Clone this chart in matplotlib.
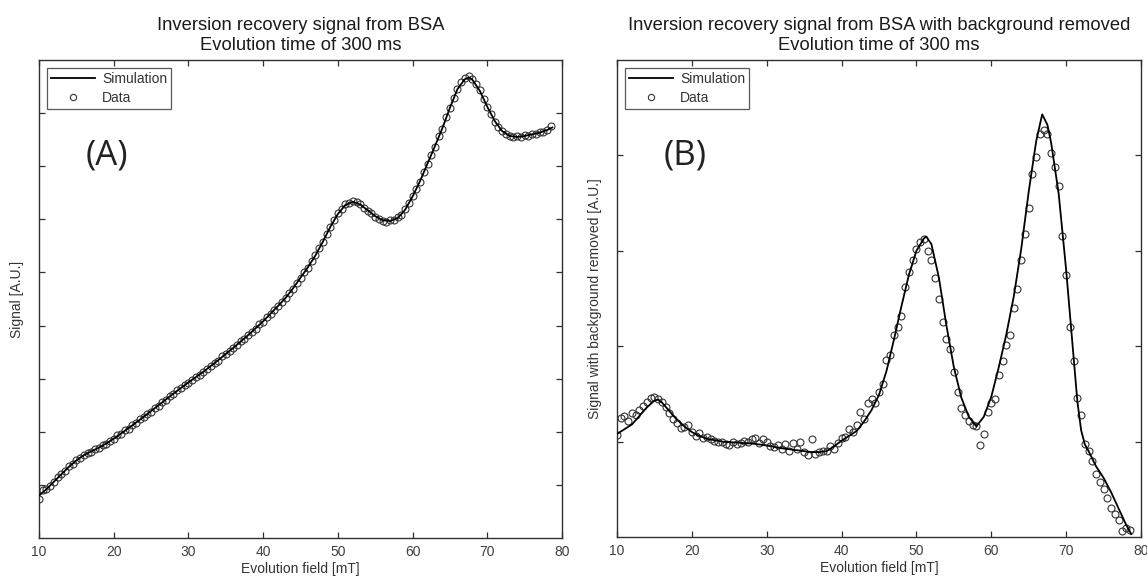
import matplotlib
matplotlib.use("Agg")
import matplotlib.pyplot as plt
from matplotlib.lines import Line2D

plt.rcParams['font.family'] = ['Liberation Sans', 'DejaVu Sans']

# ---------------- data ----------------
# sampled evolution field values for the measured points [mT]
data_x = [
    10.0, 10.5, 11.0, 11.5, 12.0, 12.5, 13.0, 13.5, 14.0, 14.5,
    15.0, 15.5, 16.0, 16.5, 17.0, 17.5, 18.0, 18.5, 19.0, 19.5,
    20.0, 20.5, 21.0, 21.5, 22.0, 22.5, 23.0, 23.5, 24.0, 24.5,
    25.0, 25.5, 26.0, 26.5, 27.0, 27.5, 28.0, 28.5, 29.0, 29.5,
    30.0, 30.5, 31.0, 31.5, 32.0, 32.5, 33.0, 33.5, 34.0, 34.5,
    35.0, 35.5, 36.0, 36.5, 37.0, 37.5, 38.0, 38.5, 39.0, 39.5,
    40.0, 40.5, 41.0, 41.5, 42.0, 42.5, 43.0, 43.5, 44.0, 44.5,
    45.0, 45.5, 46.0, 46.5, 47.0, 47.5, 48.0, 48.5, 49.0, 49.5,
    50.0, 50.5, 51.0, 51.5, 52.0, 52.5, 53.0, 53.5, 54.0, 54.5,
    55.0, 55.5, 56.0, 56.5, 57.0, 57.5, 58.0, 58.5, 59.0, 59.5,
    60.0, 60.5, 61.0, 61.5, 62.0, 62.5, 63.0, 63.5, 64.0, 64.5,
    65.0, 65.5, 66.0, 66.5, 67.0, 67.5, 68.0, 68.5, 69.0, 69.5,
    70.0, 70.5, 71.0, 71.5, 72.0, 72.5, 73.0, 73.5, 74.0, 74.5,
    75.0, 75.5, 76.0, 76.5, 77.0, 77.5, 78.0, 78.5,
]

# panel A: inversion recovery signal (arbitrary units)
data_a = [
    0.74, 0.90, 0.93, 0.98, 1.05, 1.14, 1.21, 1.26, 1.35, 1.40,
    1.47, 1.50, 1.57, 1.60, 1.62, 1.67, 1.69, 1.75, 1.77, 1.83,
    1.86, 1.93, 1.96, 2.03, 2.06, 2.13, 2.17, 2.24, 2.27, 2.34,
    2.38, 2.45, 2.49, 2.56, 2.60, 2.67, 2.71, 2.78, 2.82, 2.88,
    2.92, 2.98, 3.03, 3.07, 3.12, 3.19, 3.24, 3.30, 3.34, 3.42,
    3.46, 3.52, 3.57, 3.64, 3.70, 3.75, 3.82, 3.88, 3.94, 4.02,
    4.07, 4.16, 4.22, 4.30, 4.36, 4.45, 4.51, 4.62, 4.69, 4.80,
    4.89, 5.01, 5.09, 5.22, 5.32, 5.46, 5.57, 5.73, 5.86, 5.99,
    6.11, 6.20, 6.28, 6.31, 6.35, 6.32, 6.29, 6.22, 6.16, 6.12,
    6.05, 6.01, 5.97, 5.95, 5.98, 5.99, 6.04, 6.09, 6.19, 6.30,
    6.44, 6.58, 6.71, 6.89, 7.04, 7.22, 7.37, 7.56, 7.71, 7.92,
    8.09, 8.29, 8.46, 8.58, 8.66, 8.70, 8.64, 8.55, 8.43, 8.26,
    8.11, 7.98, 7.84, 7.74, 7.66, 7.60, 7.56, 7.55, 7.56, 7.55,
    7.58, 7.57, 7.61, 7.61, 7.64, 7.65, 7.69, 7.76,
]

sim_a_x = [10, 11, 12, 13, 14, 15, 16, 17, 18, 19, 20, 22, 24, 26, 28, 30,
           32, 34, 36, 38, 40, 42, 43, 44, 45, 46, 47, 48, 49, 50, 51, 52,
           53, 54, 55, 56, 57, 58, 59, 60, 61, 62, 63, 64, 65, 66, 67, 67.6,
           68, 69, 70, 71, 72, 73, 74, 75, 76, 77, 78, 78.7]
sim_a = [0.80, 0.92, 1.06, 1.20, 1.34, 1.46, 1.56, 1.63, 1.70, 1.78, 1.87,
         2.07, 2.28, 2.50, 2.72, 2.93, 3.13, 3.35, 3.58, 3.82, 4.08, 4.37,
         4.52, 4.70, 4.90, 5.10, 5.32, 5.58, 5.86, 6.10, 6.27, 6.33, 6.28,
         6.17, 6.06, 5.98, 5.97, 6.02, 6.18, 6.43, 6.72, 7.05, 7.38, 7.72,
         8.10, 8.45, 8.64, 8.67, 8.63, 8.42, 8.12, 7.85, 7.66, 7.57, 7.55,
         7.57, 7.60, 7.63, 7.68, 7.73]

# panel B: signal with background removed (arbitrary units)
data_b = [
    1.07, 1.25, 1.27, 1.22, 1.30, 1.28, 1.33, 1.37, 1.42, 1.46,
    1.47, 1.45, 1.42, 1.36, 1.30, 1.24, 1.19, 1.14, 1.15, 1.17,
    1.10, 1.06, 1.09, 1.04, 1.05, 1.03, 1.01, 1.00, 1.00, 0.97,
    0.96, 1.00, 0.98, 0.99, 1.01, 1.00, 1.03, 1.04, 0.99, 1.03,
    1.00, 0.95, 0.94, 0.96, 0.92, 0.98, 0.90, 0.99, 0.92, 1.00,
    0.89, 0.86, 1.03, 0.87, 0.89, 0.90, 0.90, 0.95, 0.92, 0.99,
    1.04, 1.05, 1.13, 1.10, 1.17, 1.31, 1.24, 1.40, 1.45, 1.40,
    1.52, 1.60, 1.86, 1.91, 2.12, 2.20, 2.32, 2.62, 2.78, 2.90,
    3.02, 3.09, 3.12, 3.00, 2.90, 2.72, 2.50, 2.25, 2.08, 1.97,
    1.73, 1.52, 1.35, 1.28, 1.22, 1.17, 1.16, 0.96, 1.08, 1.31,
    1.40, 1.45, 1.70, 1.84, 2.01, 2.12, 2.40, 2.60, 2.90, 3.18,
    3.45, 3.80, 3.98, 4.22, 4.27, 4.22, 4.02, 3.88, 3.68, 3.15,
    2.75, 2.20, 1.84, 1.46, 1.28, 0.98, 0.90, 0.80, 0.66, 0.58,
    0.50, 0.41, 0.30, 0.24, 0.18, 0.06, 0.09, 0.07,
]

sim_b_x = [10, 11, 12, 13, 14, 15, 15.5, 16, 17, 18, 19, 20, 21, 22, 24, 26,
           28, 30, 32, 34, 36, 37, 38, 39, 40, 41, 42, 43, 44, 45, 46, 47,
           48, 49, 50, 51, 51.3, 52, 53, 54, 55, 56, 57, 58, 59, 60, 61, 62,
           63, 64, 65, 66, 66.8, 67.5, 68, 69, 70, 71, 71.5, 72, 72.5, 73,
           74, 75, 76, 77, 78, 78.7]
sim_b = [1.08, 1.13, 1.18, 1.27, 1.36, 1.43, 1.44, 1.41, 1.32, 1.23, 1.16,
         1.10, 1.06, 1.03, 1.00, 0.99, 0.98, 0.96, 0.93, 0.91, 0.89, 0.89,
         0.90, 0.95, 1.01, 1.06, 1.11, 1.21, 1.33, 1.49, 1.74, 2.07, 2.42,
         2.75, 3.00, 3.13, 3.15, 3.07, 2.72, 2.22, 1.78, 1.46, 1.26, 1.16,
         1.26, 1.47, 1.78, 2.12, 2.52, 3.02, 3.62, 4.15, 4.43, 4.32, 4.13,
         3.60, 2.80, 1.88, 1.42, 1.12, 0.97, 0.90, 0.74, 0.62, 0.47, 0.30,
         0.13, 0.03]

x_ticks = [10, 20, 30, 40, 50, 60, 70, 80]
y_ticks_a = [1, 2, 3, 4, 5, 6, 7, 8]
y_ticks_b = [1, 2, 3, 4]

title_a = "Inversion recovery signal from BSA\nEvolution time of 300 ms"
title_b = "Inversion recovery signal from BSA with background removed\nEvolution time of 300 ms"
xlabel = "Evolution field [mT]"
ylabel_a = "Signal [A.U.]"
ylabel_b = "Signal with background removed [A.U.]"

# ---------------- figure ----------------
W, H = 1147, 576
fig = plt.figure(figsize=(W / 100, H / 100), dpi=100)
fig.patch.set_facecolor('white')

ax_a = fig.add_axes([39 / W, 1 - 538 / H, (562 - 39) / W, (538 - 60) / H])
ax_b = fig.add_axes([617 / W, 1 - 537 / H, (1141 - 617) / W, (537 - 60) / H])

spine_col = '#303030'
tick_col = '#404040'


def style(ax, yt, ylim, title, ylabel, tag):
    ax.set_xlim(10, 80)
    ax.set_ylim(*ylim)
    ax.set_xticks(x_ticks)
    ax.set_yticks(yt)
    ax.set_yticklabels([])
    ax.tick_params(direction='in', length=4, width=0.9, top=True, right=True,
                   color=spine_col, labelsize=10, labelcolor=tick_col, pad=5)
    for s in ax.spines.values():
        s.set_color(spine_col)
        s.set_linewidth(1.0)
    ax.set_title(title, fontsize=13.2, color='#1a1a1a', pad=7, linespacing=1.28)
    ax.set_xlabel(xlabel, fontsize=10, color='#333333', labelpad=2)
    ax.set_ylabel(ylabel, fontsize=10, color='#333333', labelpad=6)
    ax.text(0.13, 0.80, tag, transform=ax.transAxes, fontsize=25,
            family=['Open Sans', 'DejaVu Sans'], color='#222222',
            ha='center', va='center')
    handles = [Line2D([], [], color='black', lw=1.3),
               Line2D([], [], ls='none', marker='o', mfc='none',
                      mec='#333333', ms=4.5, mew=0.8)]
    leg = ax.legend(handles, ['Simulation', 'Data'], loc='upper left',
                    fontsize=10, frameon=True, fancybox=False,
                    edgecolor=spine_col, borderaxespad=0.55, borderpad=0.3,
                    handlelength=3.2, handletextpad=0.5, labelspacing=0.35)
    leg.get_frame().set_linewidth(0.9)
    for t in leg.get_texts():
        t.set_color('#333333')


ax_a.plot(sim_a_x, sim_a, color='black', lw=1.3, zorder=3)
ax_a.plot(data_x, data_a, ls='none', marker='o', mfc='none', mec='#333333',
          ms=5, mew=0.8, zorder=2)
style(ax_a, y_ticks_a, (0, 9), title_a, ylabel_a, '(A)')

ax_b.plot(sim_b_x, sim_b, color='black', lw=1.3, zorder=3)
ax_b.plot(data_x, data_b, ls='none', marker='o', mfc='none', mec='#333333',
          ms=5, mew=0.8, zorder=2)
style(ax_b, y_ticks_b, (0, 5), title_b, ylabel_b, '(B)')

fig.savefig('out.png', dpi=100, facecolor='white')
